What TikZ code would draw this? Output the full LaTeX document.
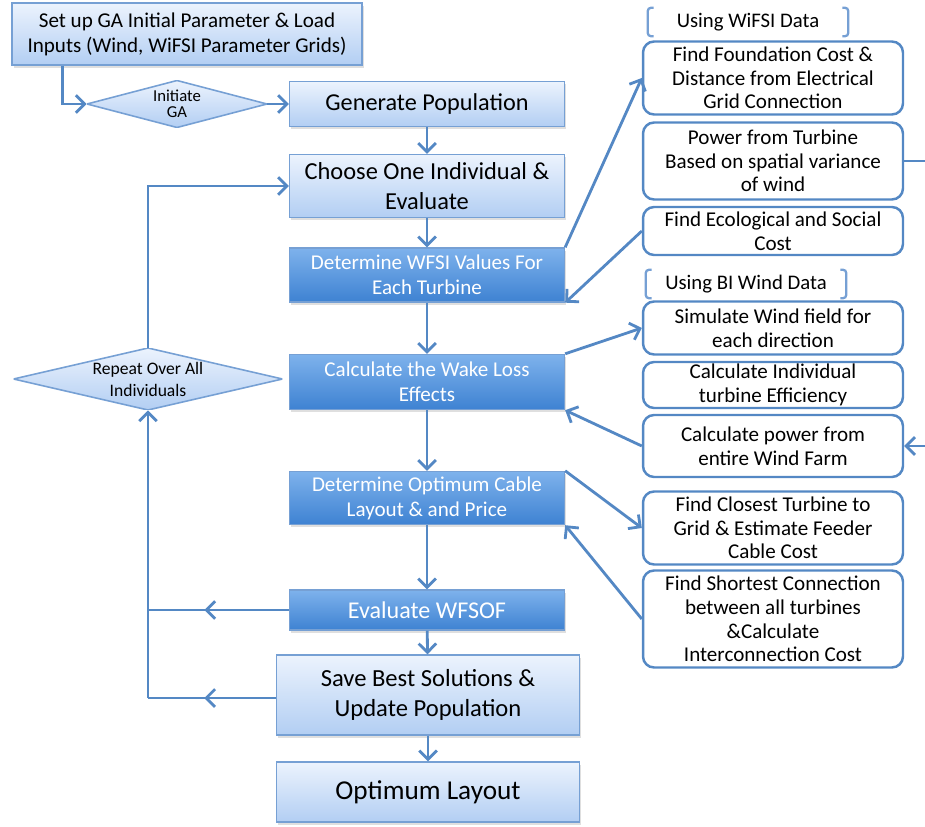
\documentclass[tikz,border=0pt]{standalone}
\usepackage{fontspec}
\setmainfont{Carlito}
\usetikzlibrary{arrows.meta,shadows,decorations.markings}
\definecolor{flowblue}{RGB}{84,136,196}
\definecolor{edgeblue}{RGB}{118,160,212}
\definecolor{lighttop}{RGB}{236,243,253}
\definecolor{lightbot}{RGB}{178,206,243}
\definecolor{darktop}{RGB}{126,178,236}
\definecolor{darkbot}{RGB}{62,130,210}
\newcommand\fs[2]{\fontsize{#1}{#2}\selectfont}
\tikzset{
    flow/.style={draw=flowblue,line width=1.6pt},
    lightbox/.style={draw=edgeblue,line width=0.8pt,top color=lighttop,bottom color=lightbot,
        align=center,inner sep=2pt,minimum width=5.5cm,
        drop shadow={shadow xshift=1pt,shadow yshift=-1.5pt,opacity=0.25}},
    darkbox/.style={lightbox,top color=darktop,bottom color=darkbot,text=white},
    sidebox/.style={draw=flowblue,line width=1.4pt,rounded corners=0.22cm,fill=white,
        align=center,inner sep=1pt,minimum width=5.2cm,font=\fs{12}{13.4}},
    decision/.style={align=center,inner sep=0pt,
        path picture={
            \shadedraw[draw=edgeblue,line width=0.9pt,top color=lighttop,bottom color=lightbot]
                (path picture bounding box.west) -- (path picture bounding box.north)
                -- (path picture bounding box.east) -- (path picture bounding box.south) -- cycle;
        }},
    brk/.style={draw=edgeblue,line width=1.3pt,rounded corners=2pt},
    datalabel/.style={minimum width=4cm,minimum height=0.56cm,inner sep=0pt,font=\fs{11.8}{13}},
    midarrow/.style={postaction={decorate},decoration={markings,mark=at position #1 with {\arrow{>}}}}
}

\begin{document}
\begin{tikzpicture}[x=0.02cm,y=-0.02cm,>={Straight Barb[length=5pt,width=10pt]}]
    \useasboundingbox (0,0) rectangle (925,827);
    % main chain
    \node[lightbox,minimum width=7cm,minimum height=1.24cm,font=\fs{12}{14.2}] (setup) at (187,34)
        {Set up GA Initial Parameter \& Load\\Inputs (Wind, WiFSI Parameter Grids)};
    \node[decision,minimum width=3.6cm,minimum height=0.94cm,font=\fs{9.5}{9}] (init) at (177,104) {Initiate\\GA};
    \node[lightbox,minimum height=0.9cm,font=\fs{13.8}{16}] (genpop) at (427,104) {Generate Population};
    \node[lightbox,minimum height=1.26cm,font=\fs{13.9}{17}] (choose) at (427,186) {Choose One Individual \&\\Evaluate};
    \node[darkbox,minimum height=1.08cm,font=\fs{12}{14.2}] (wfsi) at (427,275) {Determine WFSI Values For\\Each Turbine};
    \node[darkbox,minimum height=1.1cm,font=\fs{12}{14.2}] (wake) at (427,382) {Calculate the Wake Loss\\Effects};
    \node[darkbox,minimum height=1.06cm,font=\fs{12}{14.2}] (cable) at (427,498) {Determine Optimum Cable\\Layout \& and Price};
    \node[darkbox,minimum height=0.8cm,font=\fs{13.7}{15}] (wfsof) at (427,610) {Evaluate WFSOF};
    \node[lightbox,minimum width=6.06cm,minimum height=1.6cm,font=\fs{14}{17}] (save) at (428,695) {Save Best Solutions \&\\Update Population};
    \node[lightbox,minimum width=6.06cm,minimum height=1.2cm,font=\fs{15.5}{18}] (optimum) at (428,792) {Optimum Layout};
    \node[decision,minimum width=5.38cm,minimum height=1.24cm,font=\fs{10}{12.5}] (repeat) at (148,379) {Repeat Over All\\Individuals};

    \draw[flow,->] (setup.south west) ++(51,0) |- (init.west);
    \draw[flow,->] (init) -- (genpop);
    \foreach \a/\b in {genpop/choose,choose/wfsi,wfsi/wake,wake/cable,cable/wfsof,wfsof/save,save/optimum}
        \draw[flow,->] (\a) -- (\b);

    % loop back
    \coordinate (loopA) at (148,610);
    \coordinate (loopB) at (148,698);
    \draw[flow,midarrow=0.6] (wfsof.west) -- (loopA);
    \draw[flow,midarrow=0.56] (save.west |- loopB) -- (loopB);
    \draw[flow,->] (loopB) -- (repeat.south);
    \draw[flow,->] (repeat.north) |- (choose.west);

    % WiFSI data side
    \node[datalabel] (wifsi) at (748,22) {Using WiFSI Data};
    \draw[brk] (wifsi.north west) ++(6,0) -- ++(-6,0) -- (wifsi.south west) -- ++(6,0);
    \draw[brk] (wifsi.north east) ++(-6,0) -- ++(6,0) -- (wifsi.south east) -- ++(-6,0);
    \node[sidebox,minimum height=1.46cm] (found) at (773,78) {Find Foundation Cost \&\\Distance from Electrical\\Grid Connection};
    \node[sidebox,minimum height=1.54cm] (turbpow) at (773,161) {Power from Turbine\\Based on spatial variance\\of wind};
    \node[sidebox,minimum height=0.96cm] (ecol) at (773,231) {Find Ecological and Social\\Cost};
    \draw[flow,->] (wfsi.north east) -- (found.west);
    \draw[flow,->] (ecol.west) -- (wfsi.south east);
    \coordinate (offA) at (925,161);
    \draw[flow] (turbpow.east) -- (offA);

    % BI wind data side
    \node[datalabel] (biwind) at (746,284) {Using BI Wind Data};
    \draw[brk] (biwind.north west) ++(6,0) -- ++(-6,0) -- (biwind.south west) -- ++(6,0);
    \draw[brk] (biwind.north east) ++(-6,0) -- ++(6,0) -- (biwind.south east) -- ++(-6,0);
    \node[sidebox,minimum height=1.06cm] (simwind) at (773,328) {Simulate Wind field for\\each direction};
    \node[sidebox,minimum height=0.92cm] (effic) at (773,385) {Calculate Individual\\turbine Efficiency};
    \node[sidebox,minimum height=1.24cm] (farmpow) at (773,446) {Calculate power from\\entire Wind Farm};
    \node[sidebox,minimum height=1.46cm] (feeder) at (773,528) {Find Closest Turbine to\\Grid \& Estimate Feeder\\Cable Cost};
    \node[sidebox,minimum height=1.94cm] (shortest) at (773,619) {Find Shortest Connection\\between all turbines\\\&Calculate\\Interconnection Cost};
    \draw[flow,->] (wake.north east) -- (simwind.west);
    \draw[flow,->] (farmpow.west) -- (wake.south east);
    \draw[flow,->] (cable.north east) -- (feeder.west);
    \draw[flow,->] (shortest.west) -- (cable.south east);
    \coordinate (offB) at (925,446);
    \draw[flow,->] (offB) -- (farmpow.east);
\end{tikzpicture}
\end{document}
